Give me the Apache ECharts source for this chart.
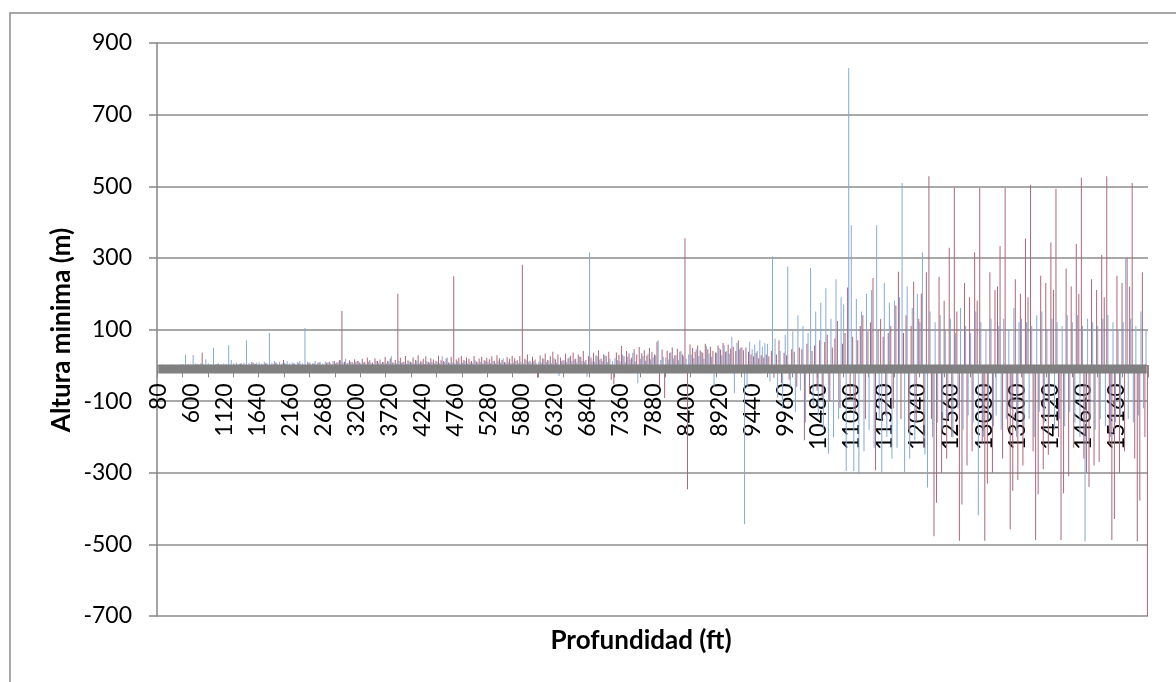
<!DOCTYPE html>
<html>
<head>
<meta charset="utf-8">
<script src="https://cdn.jsdelivr.net/npm/echarts@6/dist/echarts.min.js"></script>
<style>
html,body{margin:0;padding:0;background:#fff;}
#chart{width:1176px;height:682px;}
</style>
</head>
<body>
<div id="chart"></div>
<script>
// Depth categories: 80 ft to 15640 ft, one every 40 ft (390 categories)
const depthStart = 80;
const depthStep = 40;
const depthCount = 390;
const depths = [];
for (let i = 0; i < depthCount; i++) depths.push(String(depthStart + depthStep * i));

// Series 1 (blue), 10 per row
const blueValues = [
  1,0,2,1,0,1,2,0,1,3,
  3,29,4,2,29,5,3,6,4,17,
  5,3,49,4,6,3,5,4,56,15,
  6,8,4,5,7,69,6,9,5,7,
  8,5,10,6,90,7,12,5,9,6,
  7,11,6,8,5,9,12,6,104,10,
  8,6,12,7,9,5,10,8,6,11,
  6,9,14,8,18,7,10,6,9,12,
  5,8,4,10,6,3,12,7,5,9,
  6,10,25,8,5,12,7,9,4,11,
  8,5,13,6,10,4,12,7,9,5,
  10,6,25,9,22,7,8,5,11,6,
  7,12,5,9,6,14,8,10,5,13,
  9,6,11,5,13,8,20,7,10,6,
  8,12,6,10,5,14,9,7,11,6,
  10,7,18,9,13,6,20,8,-30,12,
  14,9,22,11,16,8,24,12,10,-32,
  315,13,10,25,16,12,28,9,18,11,
  20,14,12,30,9,24,16,35,11,-50,
  18,26,13,32,17,22,28,70,15,24,
  22,16,36,19,28,14,40,25,18,30,
  30,20,45,26,38,18,54,32,24,-60,
  35,48,28,56,40,32,80,-78,62,45,
  50,-444,-60,66,45,58,40,70,52,62,
  60,-45,304,75,-90,40,-120,85,276,-60,
  95,-130,140,-70,110,-160,90,272,-110,150,
  -140,175,-180,215,-247,130,-200,240,-150,190,
  170,-295,830,391,-295,185,-304,150,-240,200,
  -180,210,-230,391,-150,-298,230,-200,175,-260,
  180,-230,190,509,-298,220,-261,160,-210,200,
  120,315,-250,-341,150,-200,120,-160,140,-180,
  100,-150,130,-200,90,-120,160,-180,110,-140,
  90,-160,150,-419,120,-200,100,-150,130,-170,
  -140,110,-180,130,-150,100,-120,160,-200,120,
  130,-170,120,-150,110,-200,140,-130,150,-160,
  100,-140,130,-180,120,-150,110,-170,140,-130,
  120,-160,140,-200,110,-492,130,-150,120,-180,
  110,-150,130,-170,140,-200,120,-160,100,-140,
  120,298,-150,130,-160,110,-140,150,-120,100
];

// Series 2 (red), 10 per row
const redValues = [
  0,0,0,0,0,0,0,0,0,0,
  0,0,0,0,0,2,0,36,0,0,
  0,0,0,3,0,0,0,0,0,0,
  0,0,5,0,0,0,0,8,4,0,
  0,0,6,0,0,3,8,0,0,15,
  4,0,0,5,0,6,0,0,0,7,
  0,5,0,8,0,0,7,10,0,12,
  8,15,152,10,6,14,9,17,12,8,
  18,10,22,14,8,20,12,16,9,24,
  12,19,8,15,200,21,10,26,14,9,
  22,15,28,11,18,25,9,20,16,13,
  27,14,12,19,8,24,249,16,21,26,
  15,22,18,12,26,10,19,24,14,21,
  17,25,13,28,20,15,9,23,18,27,
  20,14,26,281,18,30,12,24,16,-35,
  28,19,33,15,25,38,17,30,22,14,
  32,20,27,36,18,30,24,40,15,26,
  22,35,28,42,19,31,26,38,-40,-53,
  36,29,54,25,40,33,21,45,30,51,
  34,42,27,48,38,30,66,-57,44,-91,
  41,35,50,28,46,38,30,355,-346,58,
  48,38,55,42,35,60,45,52,40,36,
  55,44,62,38,58,47,52,40,69,50,
  42,50,38,30,25,35,20,28,22,30,
  25,40,-35,30,70,-50,35,28,-40,45,
  38,-60,50,45,-209,60,-80,40,55,-70,
  70,-90,65,85,-100,50,75,124,-120,60,
  90,217,-90,80,-130,70,110,140,-150,95,
  120,244,-293,100,129,80,-140,90,110,-120,
  167,261,-150,90,140,-180,110,233,-160,130,
  200,-230,260,528,-150,-477,-384,247,-300,180,
  -260,328,-200,496,150,-490,-389,230,-280,190,
  -240,316,180,496,-220,-490,-330,260,-300,210,
  220,333,-260,496,-180,-458,-350,240,-320,200,
  -280,354,190,504,-240,-488,-360,250,-290,230,
  -250,343,210,493,-200,-488,-357,270,-310,220,
  -230,339,200,524,-260,-300,-340,240,-280,210,
  -270,308,190,528,-220,-488,-429,250,-300,230,
  -240,300,220,509,-260,-491,-378,260,-200,-720
];

// Series 3 (thick gray line), constant level
const grayLevel = -10;
const grayValues = depths.map(() => grayLevel);

// Y axis ticks
const yMin = -700, yMax = 900, yStep = 200;

const gridTop = 43, gridBottom = 66, chartH = 682;
const plotH = chartH - gridTop - gridBottom;
// the category axis crosses the value axis at zero
const xAxisOffset = -plotH * (0 - yMin) / (yMax - yMin);

const FONT = 'Lato, "Open Sans", sans-serif';
const chart = echarts.init(document.getElementById('chart'), null, {renderer: 'canvas'});
chart.setOption({
  animation: false,
  backgroundColor: '#ffffff',
  grid: {left: 157, right: 28, top: gridTop, bottom: gridBottom, containLabel: false},
  xAxis: {
    type: 'category',
    data: depths,
    boundaryGap: true,
    position: 'bottom',
    offset: xAxisOffset,
    axisLine: {show: true, onZero: false, lineStyle: {color: '#868686', width: 1}},
    axisTick: {show: true, interval: 9, length: 12, lineStyle: {color: '#868686'}},
    axisLabel: {interval: 12, rotate: 90, margin: 18, fontSize: 23, color: '#000', fontFamily: FONT},
    splitLine: {show: false}
  },
  yAxis: {
    type: 'value',
    min: yMin, max: yMax, interval: yStep,
    axisLine: {show: true, lineStyle: {color: '#868686', width: 1.5}},
    axisTick: {show: true, length: 8, lineStyle: {color: '#868686', width: 1.5}},
    axisLabel: {margin: 25, fontSize: 23, color: '#000', fontFamily: FONT},
    splitLine: {show: true, lineStyle: {color: '#8c8c8c', width: 1.5}}
  },
  series: [
    {type: 'bar', data: blueValues, barWidth: 1, barGap: '40%', itemStyle: {color: '#86a9d6'}, z: 2},
    {type: 'bar', data: redValues, barWidth: 1, itemStyle: {color: '#ad6679'}, z: 2},
    {type: 'line', data: grayValues, symbol: 'none', lineStyle: {color: '#808080', width: 9}, z: 4, silent: true}
  ],
  graphic: [
    {type: 'rect', shape: {x: 10, y: 13, width: 1200, height: 700}, style: {fill: 'none', stroke: '#8a8a8a', lineWidth: 1.5}, silent: true},
    {type: 'text', x: 62, y: 330, rotation: Math.PI / 2,
      style: {text: 'Altura minima (m)', font: 'bold 26px ' + FONT, fill: '#000', textAlign: 'center', textVerticalAlign: 'middle'}},
    {type: 'text', x: 641, y: 641,
      style: {text: 'Profundidad (ft)', font: 'bold 26px ' + FONT, fill: '#000', textAlign: 'center', textVerticalAlign: 'middle'}}
  ]
});
</script>
</body>
</html>
